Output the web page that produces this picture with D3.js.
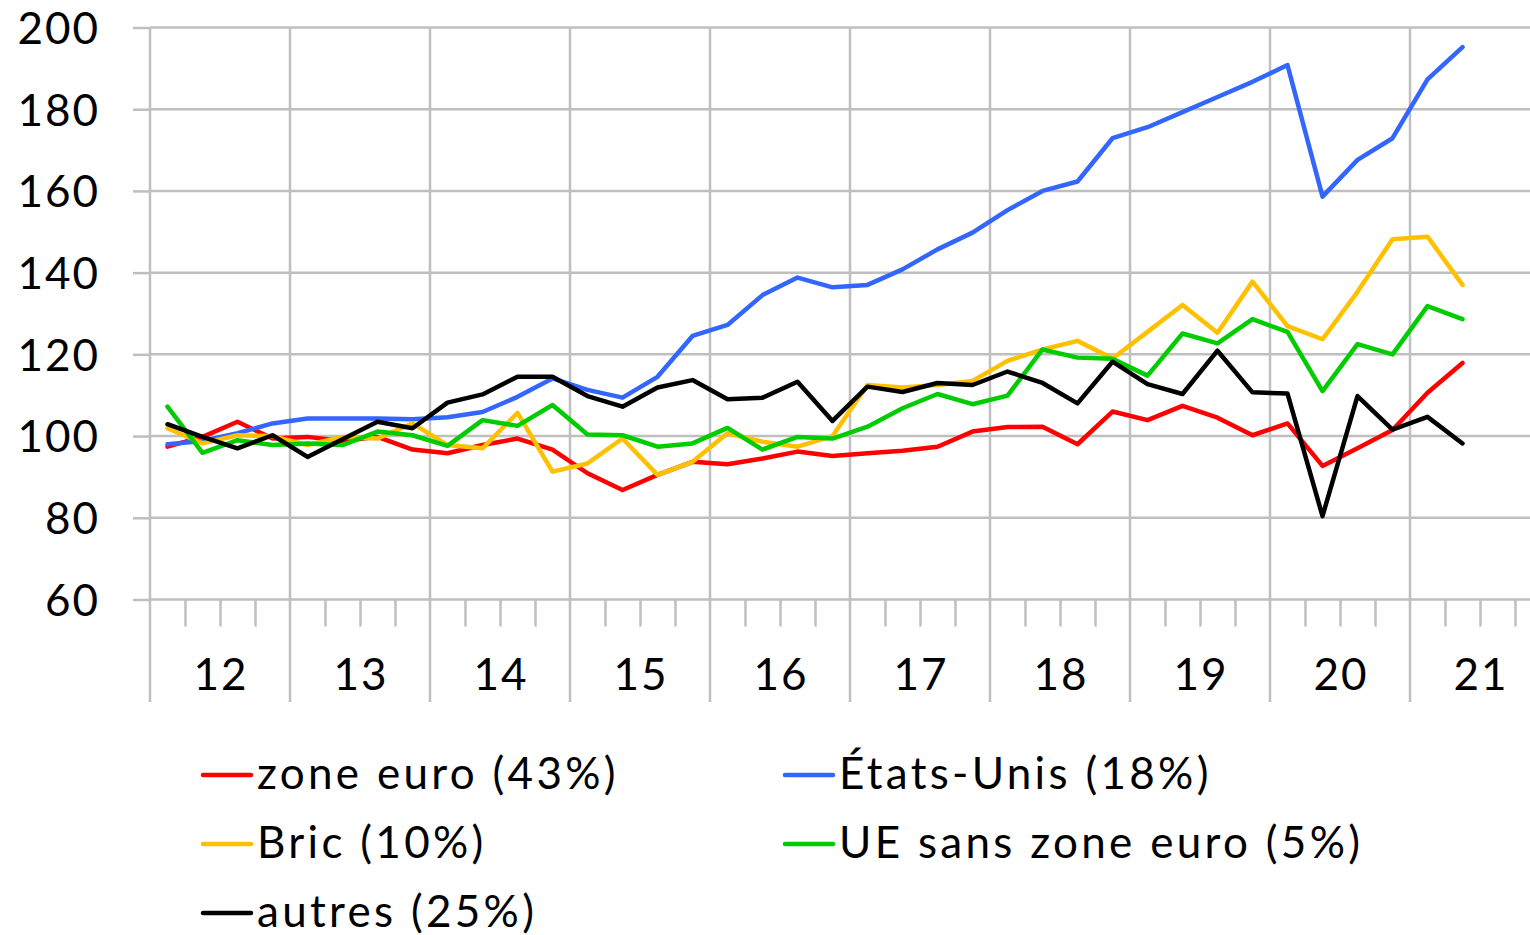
<!DOCTYPE html>
<html>
<head>
<meta charset="utf-8">
<script src="https://cdn.jsdelivr.net/npm/d3@7"></script>
<style>
  html, body { margin: 0; padding: 0; background: #fff; }
  svg { display: block; font-family: Lato, sans-serif; }
</style>
</head>
<body>
<svg id="chart" width="1530" height="935"></svg>
<script>
// quarterly index, 2012Q1 .. 2021Q2
const years = ['12', '13', '14', '15', '16', '17', '18', '19', '20', '21'];
const yTicks = [60, 80, 100, 120, 140, 160, 180, 200];

const zoneEuro = [97.4, 99.8, 103.5, 99.4, 99.8, 98.8, 99.8, 96.7, 95.8, 97.8,
  99.4, 96.7, 90.9, 86.8, 90.5, 93.7, 93.1, 94.5, 96.2, 95.1,
  95.8, 96.4, 97.4, 101.1, 102.2, 102.3, 98.0, 106.0, 103.9, 107.4,
  104.5, 100.2, 103.1, 92.7, 97.0, 101.5, 110.6, 117.9];
const etatsUnis = [98.0, 98.8, 100.7, 103.1, 104.3, 104.3, 104.3, 104.1, 104.6, 105.9,
  109.6, 114.1, 111.3, 109.4, 114.5, 124.5, 127.2, 134.5, 138.8, 136.4,
  137.0, 140.8, 145.7, 149.8, 155.3, 160.0, 162.3, 172.9, 175.6, 179.3,
  183.0, 186.7, 190.8, 158.6, 167.6, 172.9, 187.3, 195.2];
const bric = [101.9, 98.2, 100.2, 100.0, 97.8, 99.8, 99.4, 103.1, 97.8, 97.0,
  105.7, 91.3, 93.3, 99.4, 90.5, 93.7, 100.7, 98.6, 97.4, 100.0,
  112.5, 111.9, 112.5, 113.5, 118.4, 121.2, 123.3, 119.0, 125.5, 132.1,
  125.3, 137.8, 126.9, 123.7, 135.3, 148.2, 148.8, 137.0];
const ueHorsZone = [107.2, 95.9, 99.0, 97.8, 98.2, 97.8, 101.1, 100.2, 97.6, 103.9,
  102.5, 107.6, 100.4, 100.2, 97.4, 98.2, 102.0, 96.7, 99.8, 99.4,
  102.3, 106.8, 110.3, 107.8, 109.9, 121.2, 119.2, 118.9, 114.8, 125.1,
  122.7, 128.6, 125.5, 111.0, 122.5, 120.0, 131.8, 128.6];
const autres = [102.9, 99.8, 97.0, 100.2, 94.9, 99.2, 103.5, 101.9, 108.2, 110.2,
  114.5, 114.5, 109.8, 107.2, 111.9, 113.7, 109.0, 109.4, 113.3, 103.7,
  112.1, 110.8, 113.0, 112.5, 115.8, 113.0, 108.0, 118.2, 112.7, 110.3,
  120.9, 110.7, 110.4, 80.4, 109.8, 101.6, 104.7, 98.2];

const series = [
  { name: 'zone euro (43%)', values: zoneEuro, color: '#FF0000' },
  { name: 'États-Unis (18%)', values: etatsUnis, color: '#3366FF' },
  { name: 'Bric (10%)', values: bric, color: '#FFC000' },
  { name: 'UE sans zone euro (5%)', values: ueHorsZone, color: '#00CC00' },
  { name: 'autres (25%)', values: autres, color: '#000000' }
];

const svg = d3.select('#chart');
const grid = '#BFBFBF';
const left = 150, qw = 35;
const nq = years.length * 4;

let x = d3.scaleLinear().domain([0, nq]).range([left, left + nq * qw]);
let y = d3.scaleLinear().domain([60, 200]).range([599.5, 27.5]);

// horizontal gridlines
svg.append('g')
  .selectAll('line')
  .data(yTicks)
  .enter().append('line')
  .attr('x1', left).attr('x2', x(nq))
  .attr('y1', d => y(d)).attr('y2', d => y(d))
  .attr('stroke', grid).attr('stroke-width', 2.5);

// year dividers, running from top to below the labels
const yearStarts = d3.range(0, nq + 1, 4);
svg.append('g')
  .selectAll('line')
  .data(yearStarts)
  .enter().append('line')
  .attr('x1', d => x(d)).attr('x2', d => x(d))
  .attr('y1', y(200)).attr('y2', 702)
  .attr('stroke', grid).attr('stroke-width', 2.5);

// quarter ticks
let qAxis = svg.append('g')
  .attr('transform', `translate(0,${y(60)})`)
  .call(d3.axisBottom(x)
    .tickValues(d3.range(nq).filter(q => q % 4 !== 0))
    .tickSize(27)
    .tickFormat(''));
qAxis.select('.domain').remove();
qAxis.selectAll('line').attr('stroke', grid).attr('stroke-width', 2.5);

// y axis
let yAxis = svg.append('g')
  .attr('transform', `translate(${left},0)`)
  .call(d3.axisLeft(y).tickValues(yTicks).tickSize(17).tickPadding(33));
yAxis.select('.domain').remove();
yAxis.selectAll('line').attr('stroke', grid).attr('stroke-width', 2.5);
yAxis.selectAll('text')
  .attr('font-family', 'Lato, sans-serif')
  .attr('font-size', 44)
  .attr('letter-spacing', 2)
  .attr('fill', '#000')
  .attr('dy', '0.36em');

// year labels, centred in each band
svg.append('g')
  .selectAll('text')
  .data(years)
  .enter().append('text')
  .attr('x', (d, i) => x(i * 4 + 2) + 1)
  .attr('y', 690)
  .attr('text-anchor', 'middle')
  .attr('font-size', 44)
  .attr('letter-spacing', 2)
  .attr('fill', '#000')
  .text(d => d);

// lines
let line = d3.line()
  .x((d, i) => x(i + 0.5))
  .y(d => y(d));

svg.append('g')
  .selectAll('path')
  .data(series)
  .enter().append('path')
  .attr('d', d => line(d.values))
  .attr('fill', 'none')
  .attr('stroke', d => d.color)
  .attr('stroke-width', 4.5)
  .attr('stroke-linejoin', 'round')
  .attr('stroke-linecap', 'round');

// legend, two columns
const legendCols = [203, 785];
const legendRows = [789, 858, 927];

let legend = svg.append('g')
  .selectAll('g')
  .data(series)
  .enter().append('g')
  .attr('transform', (d, i) => `translate(${legendCols[i % 2]},${legendRows[Math.floor(i / 2)]})`);

legend.append('line')
  .attr('x1', 0).attr('x2', 48)
  .attr('y1', -14).attr('y2', -14)
  .attr('stroke', d => d.color)
  .attr('stroke-width', 4.5)
  .attr('stroke-linecap', 'round');

legend.append('text')
  .attr('x', 54)
  .attr('font-size', 44)
  .attr('letter-spacing', 3.3)
  .attr('fill', '#000')
  .text(d => d.name);
</script>
</body>
</html>
